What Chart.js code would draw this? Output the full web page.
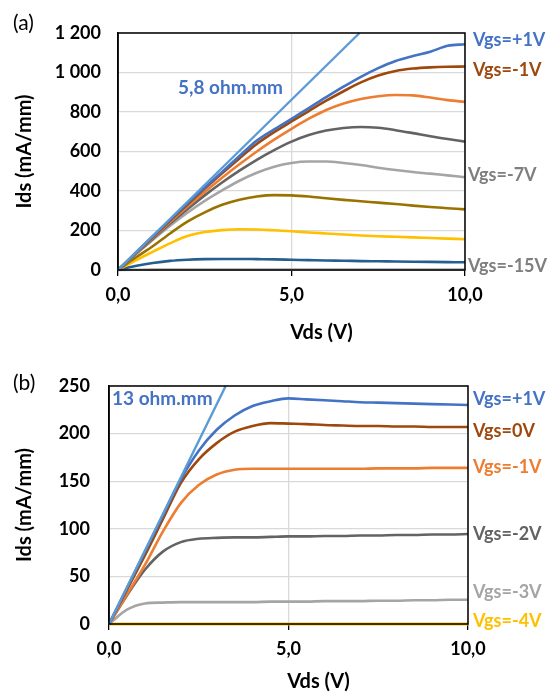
<!DOCTYPE html>
<html>
<head>
<meta charset="utf-8">
<script src="https://cdn.jsdelivr.net/npm/chart.js@4.4.1/dist/chart.umd.min.js"></script>
<style>
  body { margin: 0; background: #fff; }
  canvas { position: absolute; left: 0; }
  #graficoA { top: 0; }
  #graficoB { top: 345px; }
</style>
</head>
<body>
<canvas id="graficoA" width="555" height="345"></canvas>
<canvas id="graficoB" width="555" height="350"></canvas>
<script>
// (a) Vds de 0 a 10 V, passo 0,5 V
const vdsA = [0, 0.5, 1, 1.5, 2, 2.5, 3, 3.5, 4, 4.5, 5, 5.5, 6, 6.5, 7, 7.5, 8, 8.5, 9, 9.5, 10]
const idsA_p1 = [0, 86, 171, 255, 338, 418, 497, 577, 655, 712, 765, 820, 875, 928, 978, 1022, 1058, 1083, 1105, 1135, 1143]
const idsA_m1 = [0, 84, 167, 250, 332, 412, 490, 565, 638, 698, 752, 805, 857, 905, 950, 985, 1008, 1020, 1026, 1029, 1030]
const idsA_m3 = [0, 82, 163, 243, 320, 395, 467, 535, 600, 660, 715, 766, 810, 843, 866, 880, 886, 884, 873, 860, 851]
const idsA_m5 = [0, 80, 158, 235, 308, 378, 443, 503, 558, 607, 650, 683, 706, 719, 724, 720, 708, 693, 677, 663, 650]
const idsA_m7 = [0, 78, 152, 224, 290, 350, 403, 452, 492, 523, 542, 549, 549, 542, 532, 518, 506, 496, 488, 479, 470]
const idsA_m9 = [0, 62, 120, 185, 245, 292, 330, 356, 372, 379, 378, 372, 363, 355, 348, 341, 334, 326, 319, 313, 307]
const idsA_m11 = [0, 48, 92, 135, 172, 192, 202, 206, 205, 201, 196, 190, 185, 180, 175, 171, 168, 165, 162, 159, 156]
const idsA_m13 = [0, 20, 35, 46, 52, 55, 56, 56, 55, 54, 52, 50, 48, 47, 45, 44, 43, 42, 41, 40, 39]
const idsA_m15 = [0, 1, 2, 2, 2, 2, 2, 2, 2, 2, 2, 2, 2, 2, 2, 2, 2, 2, 2, 2, 2]
const ajusteA_x = [0, 6.96]
const ajusteA_y = [0, 1200]

// (b)
const vdsB = [0, 0.5, 1, 1.5, 2, 2.5, 3, 3.5, 4, 4.5, 5, 5.5, 6, 6.5, 7, 7.5, 8, 8.5, 9, 9.5, 10]
const idsB_p1 = [0, 38, 76, 114, 152, 182, 204, 219, 229, 234, 237, 236, 235, 234, 233, 232.5, 232, 231.5, 231, 230.5, 230]
const idsB_0 = [0, 36, 72, 110, 148, 173, 190, 202, 208, 211, 210.5, 210, 209, 208.5, 208, 208, 207.5, 207.5, 207, 207, 207]
const idsB_m1 = [0, 31, 62, 97, 127, 146, 157, 162, 163, 163, 163, 163, 163, 163, 163, 163.5, 163.5, 163.5, 164, 164, 164]
const idsB_m2 = [0, 30, 57, 76, 86, 89.5, 90.5, 91, 91, 91.5, 92, 92, 92.5, 92.5, 93, 93, 93.5, 93.5, 94, 94, 94.5]
const idsB_m3 = [0, 15, 21.5, 22.5, 23, 23, 23, 23, 23, 23.5, 23.5, 23.5, 24, 24, 24, 24.5, 24.5, 25, 25, 25.5, 25.5]
const idsB_m4 = [0, 0, 0, 0, 0, 0, 0, 0, 0, 0, 0, 0, 0, 0, 0, 0, 0, 0, 0, 0, 0]
const ajusteB_x = [0, 3.25]
const ajusteB_y = [0, 250]

const FONTE = 'Lato, "Open Sans", sans-serif'

function pontos(xs, ys) {
    return xs.map((x, i) => ({ x: x, y: ys[i] }))
}

function serie(label, xs, ys, cor, largura) {
    return {
        label: label,
        data: pontos(xs, ys),
        borderColor: cor,
        borderWidth: largura || 2.6,
        pointRadius: 0,
        cubicInterpolationMode: 'monotone',
        fill: false,
        clip: 5
    }
}

function formatarMilhar(v) {
    return String(v).replace(/\B(?=(\d{3})+(?!\d))/g, ' ')
}

function formatarDecimal(v) {
    return v.toFixed(1).replace('.', ',')
}

// moldura, rótulos das curvas e textos soltos
function textos(cfg) {
    return {
        id: 'textos',
        afterDatasetsDraw(chart) {
            const ctx = chart.ctx
            const a = chart.chartArea
            const y = chart.scales.y
            ctx.save()
            ctx.strokeStyle = '#000'
            ctx.lineWidth = 1.5
            ctx.strokeRect(a.left, a.top, a.right - a.left, a.bottom - a.top)

            ctx.textBaseline = 'middle'
            ctx.textAlign = 'left'
            ctx.font = 'bold 18px ' + FONTE
            cfg.rotulos.forEach(r => {
                const ds = chart.data.datasets[r.serie]
                const ultimo = ds.data[ds.data.length - 1].y
                ctx.fillStyle = r.cor
                ctx.fillText(r.texto, a.right + r.dx, y.getPixelForValue(ultimo) + r.dy)
            })

            ctx.fillStyle = '#4472C4'
            ctx.font = 'bold 19px ' + FONTE
            ctx.fillText(cfg.ohm, cfg.ohmX, cfg.ohmY)

            ctx.fillStyle = '#000'
            ctx.font = '21px ' + FONTE
            ctx.fillText(cfg.letra, 13, cfg.letraY)

            ctx.textAlign = 'center'
            ctx.font = 'bold 20px ' + FONTE
            ctx.fillText('Vds (V)', (a.left + a.right) / 2 + 30, cfg.tituloY)
            ctx.restore()
        }
    }
}

function opcoes(ymax, passo, larguraY, alturaX, padTop, padRight, fmtY) {
    return {
        responsive: false,
        animation: false,
        layout: { padding: { top: padTop, right: padRight, left: 0, bottom: 0 } },
        plugins: { legend: { display: false }, tooltip: { enabled: false } },
        scales: {
            x: {
                type: 'linear',
                min: 0,
                max: 10,
                afterFit: s => { s.height = alturaX },
                ticks: {
                    stepSize: 5,
                    callback: formatarDecimal,
                    color: '#000',
                    font: { family: FONTE, size: 18, weight: 'bold' },
                    padding: 8,
                    maxRotation: 0
                },
                grid: { color: '#D9D9D9', tickColor: '#000', tickLength: 6, lineWidth: 1.3 },
                border: { color: '#000', width: 1.5 }
            },
            y: {
                min: 0,
                max: ymax,
                afterFit: s => { s.width = larguraY },
                ticks: {
                    stepSize: passo,
                    callback: fmtY,
                    color: '#000',
                    font: { family: FONTE, size: 18, weight: 'bold' },
                    padding: larguraY === 118 ? 17 : 19
                },
                grid: { color: '#D9D9D9', drawTicks: false, lineWidth: 1.3 },
                border: { color: '#000', width: 1.5 },
                title: {
                    display: true,
                    text: 'Ids (mA/mm)',
                    color: '#000',
                    font: { family: FONTE, size: 20, weight: 'bold' },
                    padding: { top: 13, bottom: 0 }
                }
            }
        }
    }
}

const graficoA = new Chart(document.getElementById('graficoA'), {
    type: 'line',
    data: {
        datasets: [
            serie('5,8 ohm.mm', ajusteA_x, ajusteA_y, '#5B9BD5', 2.4),
            serie('Vgs=+1V', vdsA, idsA_p1, '#4472C4'),
            serie('Vgs=-1V', vdsA, idsA_m1, '#9E480E'),
            serie('Vgs=-3V', vdsA, idsA_m3, '#ED7D31'),
            serie('Vgs=-5V', vdsA, idsA_m5, '#636363'),
            serie('Vgs=-7V', vdsA, idsA_m7, '#A5A5A5'),
            serie('Vgs=-9V', vdsA, idsA_m9, '#997300'),
            serie('Vgs=-11V', vdsA, idsA_m11, '#FFC000'),
            serie('Vgs=-13V', vdsA, idsA_m13, '#255E91'),
            serie('Vgs=-15V', vdsA, idsA_m15, '#A5A5A5')
        ]
    },
    options: opcoes(1200, 200, 118, 75, 33, 90, formatarMilhar),
    plugins: [textos({
        rotulos: [
            { serie: 1, texto: 'Vgs=+1V', cor: '#4472C4', dx: 8, dy: -4 },
            { serie: 2, texto: 'Vgs=-1V', cor: '#9E480E', dx: 8, dy: 4 },
            { serie: 5, texto: 'Vgs=-7V', cor: '#7F7F7F', dx: 3, dy: -2 },
            { serie: 9, texto: 'Vgs=-15V', cor: '#7F7F7F', dx: 3, dy: -3 }
        ],
        ohm: '5,8 ohm.mm', ohmX: 178, ohmY: 88,
        letra: '(a)', letraY: 23,
        tituloY: 333
    })]
})

const graficoB = new Chart(document.getElementById('graficoB'), {
    type: 'line',
    data: {
        datasets: [
            serie('13 ohm.mm', ajusteB_x, ajusteB_y, '#5B9BD5', 2.4),
            serie('Vgs=+1V', vdsB, idsB_p1, '#4472C4'),
            serie('Vgs=0V', vdsB, idsB_0, '#9E480E'),
            serie('Vgs=-1V', vdsB, idsB_m1, '#ED7D31'),
            serie('Vgs=-2V', vdsB, idsB_m2, '#636363'),
            serie('Vgs=-3V', vdsB, idsB_m3, '#A5A5A5'),
            serie('Vgs=-4V', vdsB, idsB_m4, '#FFC000', 3)
        ]
    },
    options: opcoes(250, 50, 109, 71, 41, 87, v => String(v)),
    plugins: [textos({
        rotulos: [
            { serie: 1, texto: 'Vgs=+1V', cor: '#4472C4', dx: 5, dy: -6 },
            { serie: 2, texto: 'Vgs=0V', cor: '#9E480E', dx: 5, dy: 4 },
            { serie: 3, texto: 'Vgs=-1V', cor: '#ED7D31', dx: 5, dy: -1 },
            { serie: 4, texto: 'Vgs=-2V', cor: '#636363', dx: 5, dy: 0 },
            { serie: 5, texto: 'Vgs=-3V', cor: '#A5A5A5', dx: 5, dy: -8 },
            { serie: 6, texto: 'Vgs=-4V', cor: '#FFC000', dx: 5, dy: -3 }
        ],
        ohm: '13 ohm.mm', ohmX: 112, ohmY: 54,
        letra: '(b)', letraY: 38,
        tituloY: 337
    })]
})
</script>
</body>
</html>
